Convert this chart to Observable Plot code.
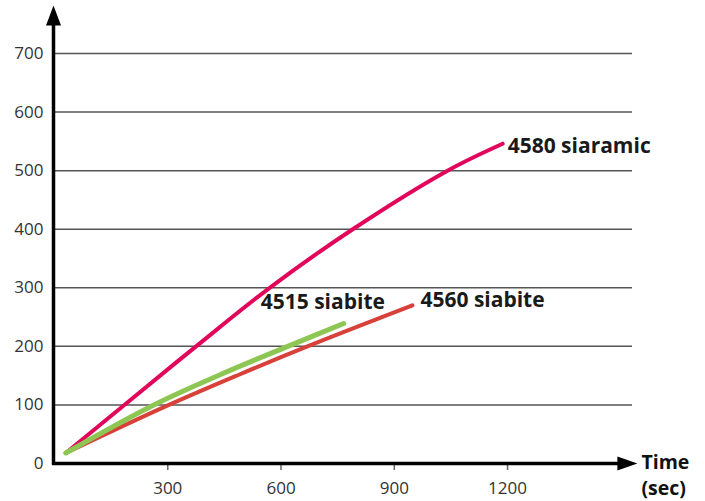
<!DOCTYPE html>
<html>
<head>
<meta charset="utf-8">
<script src="https://cdn.jsdelivr.net/npm/d3@7"></script>
<script src="https://cdn.jsdelivr.net/npm/@observablehq/plot@0.6"></script>
<style>
  html, body { margin: 0; padding: 0; background: #fff; }
  #chart svg { display: block; }
</style>
</head>
<body>
<div id="chart"></div>
<script>
// Data (time in sec, value)
const siaramic4580 = [[30,18],[185,100],[375,200],[570,300],[790,400],[1041,500],[1187,546]];
const siabite4515  = [[30,18],[263,100],[440,152],[618,200],[766,239]];
const siabite4560  = [[30,18],[303,100],[490,152],[670,200],[948,270]];
const seriesNames  = ["4580 siaramic", "4515 siabite", "4560 siabite"];
const seriesColors = ["#e2065a", "#8dc653", "#d8403a"];
const xTicks = [300, 600, 900, 1200];
const yTicks = [0, 100, 200, 300, 400, 500, 600, 700];
const gridValues = [100, 200, 300, 400, 500, 600, 700];
const xAxisLabelLines = ["Time", "(sec)"];

const seriesData = [siaramic4580, siabite4515, siabite4560];
const rows = seriesData.flatMap((s, i) => s.map(([t, v]) => ({t, v, name: seriesNames[i]})));
const ends = seriesData.map((s, i) => ({t: s[s.length-1][0], v: s[s.length-1][1], name: seriesNames[i]}));

const upHead = {draw(ctx) { ctx.moveTo(0, -20); ctx.lineTo(7.5, 0); ctx.lineTo(-7.5, 0); ctx.closePath(); }};
const rightHead = {draw(ctx) { ctx.moveTo(20, 0); ctx.lineTo(0, 7); ctx.lineTo(0, -7); ctx.closePath(); }};

const xMax = 1531, yMax = 700;
const labelStyle = {x: "t", y: "v", text: "name", textAnchor: "start", fontSize: 21, fontWeight: 700, fill: "#1a1a1a"};
const axisLabelStyle = {x: "x", y: "y", textAnchor: "start", dx: 24, fontSize: 19.5, fontWeight: 700, fill: "#111"};

const chart = Plot.plot({
  width: 705,
  height: 501,
  marginLeft: 54,
  marginRight: 73,
  marginTop: 53,
  marginBottom: 38,
  style: {fontFamily: "'Open Sans', sans-serif", background: "#fff"},
  x: {domain: [0, xMax]},
  y: {domain: [0, yMax]},
  color: {domain: seriesNames, range: seriesColors},
  marks: [
    Plot.ruleY(gridValues, {x1: 0, x2: xMax, stroke: "#555", strokeWidth: 1.5}),
    Plot.axisX(xTicks, {tickSize: 7, tickPadding: 11, fontSize: 17, fill: "#333", stroke: "#666", strokeWidth: 1.5, tickFormat: d => String(d)}),
    Plot.axisY(yTicks, {tickSize: 0, tickPadding: 11, fontSize: 17, fill: "#333", tickFormat: d => String(d)}),
    Plot.line(rows.filter(d => d.name !== "4515 siabite"), {x: "t", y: "v", z: "name", stroke: "name", strokeWidth: 4, curve: "catmull-rom"}),
    Plot.line(rows.filter(d => d.name === "4515 siabite"), {x: "t", y: "v", z: "name", stroke: "name", strokeWidth: 5, curve: "catmull-rom"}),
    Plot.ruleX([0], {y1: -3, y2: 755, stroke: "#000", strokeWidth: 3.5, dx: -1}),
    Plot.ruleY([0], {x1: -5, x2: 1495, stroke: "#000", strokeWidth: 3.5}),
    Plot.dot([{x: 0, y: 748}], {x: "x", y: "y", symbol: upHead, fill: "#000", stroke: null, dx: -1}),
    Plot.dot([{x: 1491, y: 0}], {x: "x", y: "y", symbol: rightHead, fill: "#000", stroke: null}),
    Plot.text([{x: 1491, y: 0}], {...axisLabelStyle, text: () => xAxisLabelLines[0], dy: -1}),
    Plot.text([{x: 1491, y: 0}], {...axisLabelStyle, text: () => xAxisLabelLines[1], dy: 25}),
    Plot.text(ends.filter(d => d.name === "4580 siaramic"), {...labelStyle, dx: 5, dy: 3}),
    Plot.text(ends.filter(d => d.name === "4560 siabite"), {...labelStyle, dx: 8, dy: -5}),
    Plot.text(ends.filter(d => d.name === "4515 siabite"), {...labelStyle, dx: -83, dy: -21})
  ]
});
document.getElementById("chart").append(chart);
</script>
</body>
</html>
